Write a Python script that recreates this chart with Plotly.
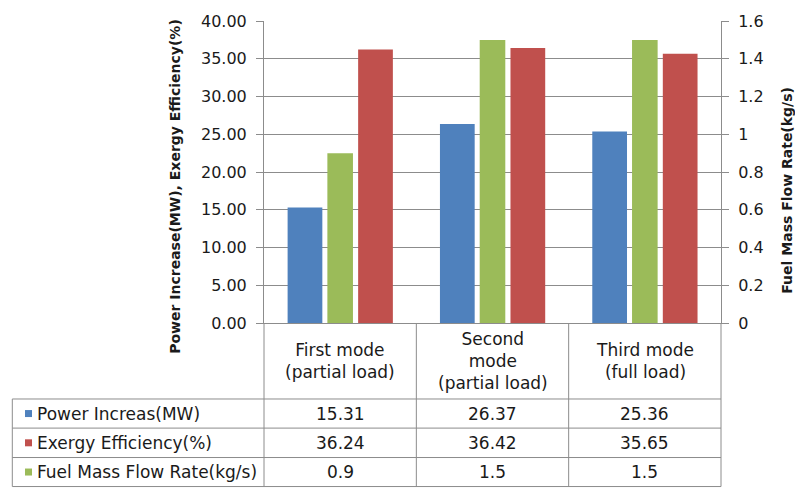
import plotly.graph_objects as go

# ---------------- data ----------------
categories = ["First mode<br>(partial load)", "Second<br>mode<br>(partial load)", "Third mode<br>(full load)"]
power_mw = [15.31, 26.37, 25.36]
exergy_eff = [36.24, 36.42, 35.65]
fuel_flow = [0.9, 1.5, 1.5]
series_names = ["Power Increas(MW)", "Exergy Efficiency(%)", "Fuel Mass Flow Rate(kg/s)"]
left_ticks = [0, 5, 10, 15, 20, 25, 30, 35, 40]
right_ticks = [0, 0.2, 0.4, 0.6, 0.8, 1, 1.2, 1.4, 1.6]

BLUE = "#4F81BD"
RED = "#C0504D"
GREEN = "#9BBB59"
GRID = "#8C8C8C"
TXT = "#1a1a1a"
FONT = "DejaVu Sans"
TABLE_FS = 17

# ---------------- geometry (pixels) ----------------
WIDTH, HEIGHT = 795, 491
L, R, T, B = 264, 721, 17, 323
PW, PH = R - L, B - T

def px(x):
    return (x - L) / PW

def py(y):
    return (B - y) / PH

xs = list(range(len(categories)))

fig = go.Figure()
fig.add_trace(go.Bar(x=xs, y=power_mw, name=series_names[0], marker=dict(color=BLUE, line=dict(width=0)),
                     width=0.228, offset=-0.345, yaxis="y"))
fig.add_trace(go.Bar(x=xs, y=exergy_eff, name=series_names[1], marker=dict(color=RED, line=dict(width=0)),
                     width=0.228, offset=0.118, yaxis="y"))
fig.add_trace(go.Bar(x=xs, y=fuel_flow, name=series_names[2], marker=dict(color=GREEN, line=dict(width=0)),
                     width=0.168, offset=-0.084, yaxis="y2"))

shapes = []
annotations = []

# table rows (pixel y)
header_bottom = 400
row_lines = [400, 429.5, 459.3, 488.7]
table_left = 12.3

# horizontal lines
for i, yy in enumerate(row_lines):
    shapes.append(dict(type="line", xref="paper", yref="paper", x0=px(table_left), x1=1,
                       y0=py(yy), y1=py(yy), line=dict(color=GRID, width=1)))
# outer verticals
shapes.append(dict(type="line", xref="paper", yref="paper", x0=0, x1=0, y0=0, y1=py(row_lines[-1]),
                   line=dict(color=GRID, width=1)))
shapes.append(dict(type="line", xref="paper", yref="paper", x0=1, x1=1, y0=0, y1=py(row_lines[-1]),
                   line=dict(color=GRID, width=1)))
shapes.append(dict(type="line", xref="paper", yref="paper", x0=px(table_left), x1=px(table_left),
                   y0=py(row_lines[0]), y1=py(row_lines[-1]), line=dict(color=GRID, width=1)))
# column dividers
for k in range(1, len(categories)):
    shapes.append(dict(type="line", xref="x", yref="paper", x0=k - 0.5, x1=k - 0.5, y0=0,
                       y1=py(row_lines[-1]), line=dict(color=GRID, width=1)))

# header labels
for i, c in enumerate(categories):
    annotations.append(dict(x=i, y=py((B + header_bottom) / 2), xref="x", yref="paper", text=c,
                            showarrow=False, xanchor="center", yanchor="middle",
                            font=dict(family=FONT, size=TABLE_FS, color=TXT)))

# data rows
rows = [(series_names[0], BLUE, power_mw), (series_names[1], RED, exergy_eff), (series_names[2], GREEN, fuel_flow)]
for r, (name, col, vals) in enumerate(rows):
    yc = (row_lines[r] + row_lines[r + 1]) / 2
    shapes.append(dict(type="rect", xref="paper", yref="paper", xsizemode="pixel", ysizemode="pixel",
                       xanchor=px(28.5), yanchor=py(yc), x0=-3.5, x1=3.5, y0=-3.5, y1=3.5,
                       fillcolor=col, line=dict(width=0)))
    annotations.append(dict(x=px(34.5), y=py(yc), xref="paper", yref="paper", text=name, showarrow=False,
                            xanchor="left", yanchor="middle", font=dict(family=FONT, size=TABLE_FS, color=TXT)))
    for i, v in enumerate(vals):
        annotations.append(dict(x=i, y=py(yc), xref="x", yref="paper", text=str(v), showarrow=False,
                                xanchor="center", yanchor="middle", font=dict(family=FONT, size=TABLE_FS, color=TXT)))

# axis titles
annotations.append(dict(x=px(175), y=py(185), xref="paper", yref="paper",
                        text="<b>Power Increase(MW), Exergy Efficiency(%)</b>", textangle=-90,
                        showarrow=False, xanchor="center", yanchor="middle",
                        font=dict(family=FONT, size=14, color=TXT)))
annotations.append(dict(x=px(787), y=py(189), xref="paper", yref="paper",
                        text="<b>Fuel Mass Flow Rate(kg/s)</b>", textangle=-90,
                        showarrow=False, xanchor="center", yanchor="middle",
                        font=dict(family=FONT, size=14, color=TXT)))

fig.update_layout(
    width=WIDTH, height=HEIGHT,
    margin=dict(l=L, r=WIDTH - R, t=T, b=HEIGHT - B, pad=0),
    paper_bgcolor="white", plot_bgcolor="white",
    barmode="overlay", showlegend=False,
    font=dict(family=FONT, size=16, color=TXT),
    xaxis=dict(range=[-0.5, len(categories) - 0.5], showticklabels=False, ticks="",
               showgrid=False, zeroline=False, showline=True, linecolor=GRID, linewidth=1,
               fixedrange=True),
    yaxis=dict(range=[0, 40], tickvals=left_ticks, tickformat=".2f", showgrid=True, gridcolor=GRID,
               gridwidth=1, zeroline=False, showline=True, linecolor=GRID, linewidth=1,
               ticks="outside", ticklen=7, tickcolor=GRID, ticklabelstandoff=6,
               tickfont=dict(family=FONT, size=16, color=TXT)),
    yaxis2=dict(range=[0, 1.6], tickvals=right_ticks, overlaying="y", side="right", showgrid=False,
                zeroline=False, showline=True, linecolor=GRID, linewidth=1,
                ticks="outside", ticklen=7, tickcolor=GRID, ticklabelstandoff=6,
                tickfont=dict(family=FONT, size=16, color=TXT)),
    shapes=shapes, annotations=annotations,
)

fig.write_html("out.html")
